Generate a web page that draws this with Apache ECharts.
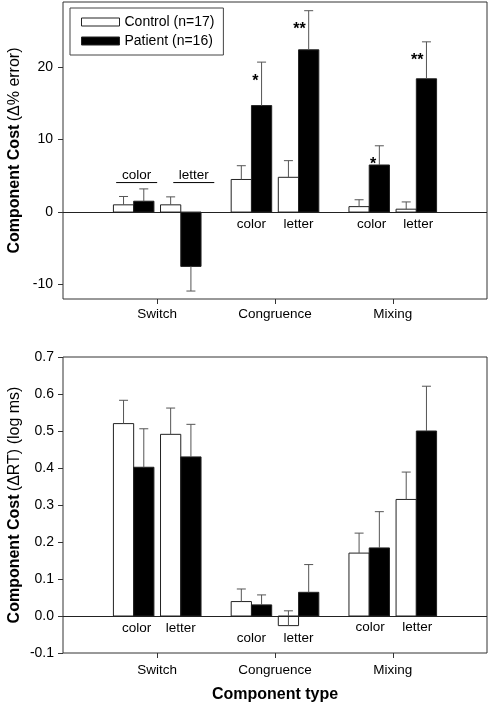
<!DOCTYPE html>
<html>
<head>
<meta charset="utf-8">
<script src="https://cdn.jsdelivr.net/npm/echarts@6/dist/echarts.min.js"></script>
<style>
html,body{margin:0;padding:0;background:#fff;}
#c{width:490px;height:704px;}
</style>
</head>
<body>
<div id="c"></div>
<script>
// ---------- DATA ----------
const categories = ['Switch', 'Congruence', 'Mixing'];
const subLabels = ['color', 'letter'];
// order: Switch color, Switch letter, Congruence color, Congruence letter, Mixing color, Mixing letter
const errControl = [1.0, 1.0, 4.5, 4.8, 0.75, 0.4];
const errControlWhisker = [2.15, 2.1, 6.4, 7.1, 1.7, 1.4];
const errPatient = [1.5, -7.5, 14.7, 22.4, 6.5, 18.4];
const errPatientWhisker = [3.2, -10.9, 20.7, 27.8, 9.15, 23.5];
const errPatientSig = ['', '', '*', '**', '*', '**'];
const rtControl = [0.520, 0.491, 0.039, -0.026, 0.170, 0.315];
const rtControlWhisker = [0.583, 0.562, 0.073, 0.014, 0.224, 0.389];
const rtPatient = [0.402, 0.430, 0.030, 0.064, 0.184, 0.500];
const rtPatientWhisker = [0.506, 0.518, 0.057, 0.139, 0.282, 0.621];
const errTicks = [-10, 0, 10, 20];
const rtTicks = [-0.1, 0.0, 0.1, 0.2, 0.3, 0.4, 0.5, 0.6, 0.7];
const seriesNames = ['Control (n=17)', 'Patient (n=16)'];

// ---------- LAYOUT ----------
const FONT = 'Liberation Sans, Arial, Helvetica, sans-serif';
const BW = 0.172;      // bar width in x units
const PAIR = 0.2;      // offset of color/letter pair from group centre
const CAP = 4.5;       // whisker cap half width px
const topLabelLayout = [
  {dx: 3, dy: -37, ul: true}, {dx: 13, dy: -37, ul: true},
  {dx: 0, dy: 12}, {dx: 0, dy: 12}, {dx: 2.5, dy: 12}, {dx: 2, dy: 12}
];
const botLabelLayout = [
  {dx: 3, dy: 12}, {dx: 0, dy: 12}, {dx: 0, dy: 22}, {dx: 0, dy: 22}, {dx: 1, dy: 11.5}, {dx: 1, dy: 11.5}
];

function pairX(i) { return Math.floor(i / 2) + 1 + (i % 2 ? PAIR : -PAIR); }
function barData(vals, whiskers, side) {
  return vals.map((v, i) => [pairX(i) + side * BW / 2, v, whiskers[i]]);
}

function makeBarRender(fill, sig) {
  return function (params, api) {
    const x = api.value(0), v = api.value(1), e = api.value(2);
    const p0 = api.coord([x - BW / 2, 0]);
    const p1 = api.coord([x + BW / 2, v]);
    const pc = api.coord([x, v]);
    const pe = api.coord([x, e]);
    const children = [
      {type: 'rect', shape: {x: p0[0], y: Math.min(p0[1], p1[1]), width: p1[0] - p0[0], height: Math.abs(p1[1] - p0[1])},
       style: {fill: fill, stroke: '#222', lineWidth: 1}},
      {type: 'line', shape: {x1: pc[0], y1: pc[1], x2: pe[0], y2: pe[1]}, style: {stroke: '#555', lineWidth: 1}},
      {type: 'line', shape: {x1: pe[0] - CAP, y1: pe[1], x2: pe[0] + CAP, y2: pe[1]}, style: {stroke: '#555', lineWidth: 1}}
    ];
    if (sig && sig[params.dataIndex]) {
      children.push({type: 'text', style: {text: sig[params.dataIndex], x: pe[0] - 3, y: pe[1] + 19,
        align: 'right', verticalAlign: 'middle', font: 'bold 16px ' + FONT, fill: '#000'}});
    }
    return {type: 'group', children: children};
  };
}

function makeLabelRender(layout) {
  return function (params, api) {
    const i = params.dataIndex;
    const p = api.coord([api.value(0), 0]);
    const L = layout[i];
    const cx = p[0] + L.dx, cy = p[1] + L.dy;
    const ch = [{type: 'text', style: {text: subLabels[i % 2], x: cx, y: cy, align: 'center', verticalAlign: 'middle',
      font: '13.5px ' + FONT, fill: '#000'}}];
    if (L.ul) ch.push({type: 'line', shape: {x1: cx - 20.5, y1: cy + 7.5, x2: cx + 20.5, y2: cy + 7.5}, style: {stroke: '#000', lineWidth: 1}});
    return {type: 'group', children: ch};
  };
}

const labelData = errControl.map((_, i) => [pairX(i), 0]);

function xAxisFor(gi, margin) {
  return {
    type: 'value', gridIndex: gi, min: 0.2, max: 3.8,
    axisLine: {show: false, onZero: false}, splitLine: {show: false},
    axisTick: {show: true, customValues: [1, 2, 3], length: 5, lineStyle: {color: '#333'}},
    axisLabel: {customValues: [1, 2, 3], formatter: v => categories[Math.round(v) - 1], margin: margin,
      fontSize: 13.5, fontFamily: FONT, color: '#000'}
  };
}
function yAxisFor(gi, min, max, ticks, fmt, margin) {
  return {
    type: 'value', gridIndex: gi, min: min, max: max,
    axisLine: {show: false, onZero: false}, splitLine: {show: false},
    axisTick: {show: true, customValues: ticks, length: 5, lineStyle: {color: '#333'}},
    axisLabel: {customValues: ticks, formatter: fmt, margin: margin, fontSize: 14, fontFamily: FONT, color: '#000'}
  };
}
const zeroLine = {silent: true, symbol: 'none', label: {show: false}, lineStyle: {color: '#222', width: 1, type: 'solid'},
  data: [{yAxis: 0}], animation: false};

const chart = echarts.init(document.getElementById('c'), null, {renderer: 'canvas'});
chart.setOption({
  animation: false,
  backgroundColor: '#fff',
  textStyle: {fontFamily: FONT},
  grid: [
    {left: 63, top: 2, width: 424, height: 297, show: true, borderColor: '#333', borderWidth: 1, backgroundColor: 'transparent'},
    {left: 63, top: 357, width: 424, height: 296, show: true, borderColor: '#333', borderWidth: 1, backgroundColor: 'transparent'}
  ],
  legend: {
    left: 70, top: 8, orient: 'vertical', padding: [6, 9, 6, 11], borderColor: '#444', borderWidth: 1,
    itemWidth: 38, itemHeight: 8, itemGap: 3, selectedMode: false,
    textStyle: {fontSize: 14, lineHeight: 16, fontFamily: FONT, color: '#000'},
    data: [
      {name: seriesNames[0], icon: 'rect', itemStyle: {color: '#fff', borderColor: '#222', borderWidth: 1}},
      {name: seriesNames[1], icon: 'rect', itemStyle: {color: '#000', borderColor: '#222', borderWidth: 1}}
    ]
  },
  xAxis: [xAxisFor(0, 8), xAxisFor(1, 10)],
  yAxis: [
    yAxisFor(0, -12, 29, errTicks, v => String(Math.round(v)), 10),
    yAxisFor(1, -0.1, 0.7, rtTicks, v => v.toFixed(1), 9)
  ],
  graphic: [
    {type: 'text', x: 15, y: 150.5, rotation: Math.PI / 2, style: {
      text: '{b|Component Cost} {n|(Δ% error)}', align: 'center', verticalAlign: 'middle',
      rich: {b: {font: 'bold 16px ' + FONT, fill: '#000'}, n: {font: '16px ' + FONT, fill: '#000'}}}},
    {type: 'text', x: 15, y: 505, rotation: Math.PI / 2, style: {
      text: '{b|Component Cost} {n|(ΔRT) (log ms)}', align: 'center', verticalAlign: 'middle',
      rich: {b: {font: 'bold 16px ' + FONT, fill: '#000'}, n: {font: '16px ' + FONT, fill: '#000'}}}},
    {type: 'text', x: 275, y: 695, style: {text: 'Component type', align: 'center', verticalAlign: 'middle',
      font: 'bold 16px ' + FONT, fill: '#000'}}
  ],
  series: [
    {type: 'custom', name: seriesNames[0], xAxisIndex: 0, yAxisIndex: 0, itemStyle: {color: '#fff', borderColor: '#222'},
     data: barData(errControl, errControlWhisker, -1), encode: {x: 0, y: [1, 2]}, renderItem: makeBarRender('#fff', null), z: 3,
     markLine: zeroLine},
    {type: 'custom', name: seriesNames[1], xAxisIndex: 0, yAxisIndex: 0, itemStyle: {color: '#000'},
     data: barData(errPatient, errPatientWhisker, 1), encode: {x: 0, y: [1, 2]}, renderItem: makeBarRender('#000', errPatientSig), z: 3},
    {type: 'custom', name: 'labels-top', xAxisIndex: 0, yAxisIndex: 0, silent: true, clip: false,
     data: labelData, encode: {x: 0, y: 1}, renderItem: makeLabelRender(topLabelLayout), z: 4},
    {type: 'custom', name: seriesNames[0], xAxisIndex: 1, yAxisIndex: 1, itemStyle: {color: '#fff', borderColor: '#222'},
     data: barData(rtControl, rtControlWhisker, -1), encode: {x: 0, y: [1, 2]}, renderItem: makeBarRender('#fff', null), z: 3,
     markLine: zeroLine},
    {type: 'custom', name: seriesNames[1], xAxisIndex: 1, yAxisIndex: 1, itemStyle: {color: '#000'},
     data: barData(rtPatient, rtPatientWhisker, 1), encode: {x: 0, y: [1, 2]}, renderItem: makeBarRender('#000', null), z: 3},
    {type: 'custom', name: 'labels-bottom', xAxisIndex: 1, yAxisIndex: 1, silent: true, clip: false,
     data: labelData, encode: {x: 0, y: 1}, renderItem: makeLabelRender(botLabelLayout), z: 4}
  ]
});
</script>
</body>
</html>
